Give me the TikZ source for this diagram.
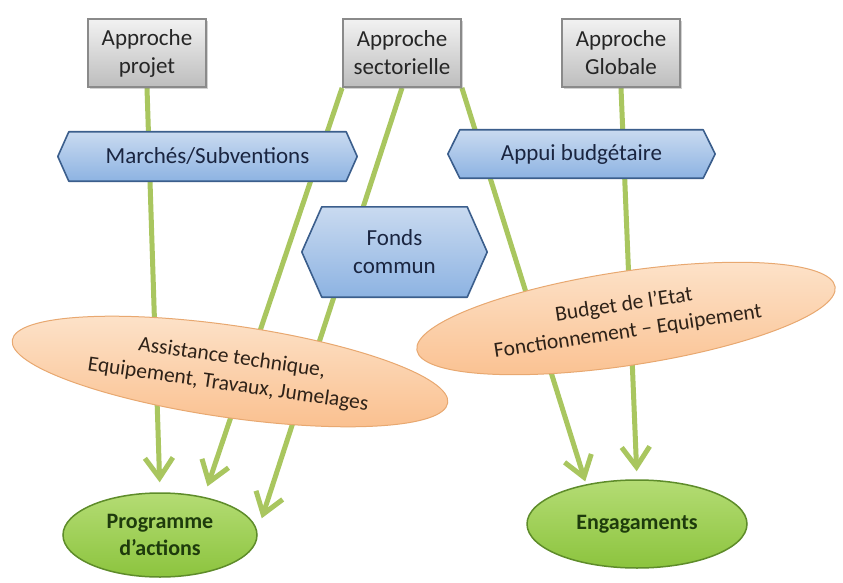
\documentclass[tikz,border=0pt]{standalone}
\usepackage{fontspec}
\setmainfont{Carlito}
\usetikzlibrary{shapes.geometric,arrows.meta,backgrounds,shadows}
\pgfdeclarelayer{mid}
\pgfsetlayers{background,mid,main}
\definecolor{apt}{HTML}{F2F2F2}
\definecolor{apb}{HTML}{BDBDBD}
\definecolor{apbd}{HTML}{8A8A8A}
\definecolor{hxt}{HTML}{C9DAF0}
\definecolor{hxb}{HTML}{8DB3E2}
\definecolor{hxbd}{HTML}{3B5E8C}
\definecolor{hxtx}{HTML}{1A2540}
\definecolor{ort}{HTML}{FDE4CC}
\definecolor{orb}{HTML}{FAC08F}
\definecolor{orbd}{HTML}{E8A870}
\definecolor{ortx}{HTML}{2E2218}
\definecolor{gnt}{HTML}{B4DC74}
\definecolor{gnb}{HTML}{8CC43E}
\definecolor{gnbd}{HTML}{5E8C2A}
\definecolor{gntx}{HTML}{1E3B0C}
\definecolor{lnk}{HTML}{A9C65F}
\newcommand\hexaround[2]{%
  \path[hexpath] ([xshift=#2]#1.north west) -- ([xshift=-#2]#1.north east) -- (#1.east)
    -- ([xshift=-#2]#1.south east) -- ([xshift=#2]#1.south west) -- (#1.west) -- cycle;}
\begin{document}
\begin{tikzpicture}[x=1pt,y=-1pt,
  appr/.style={rectangle, draw=apbd, line width=1.8pt, top color=apt, bottom color=apb,
    minimum width=118pt, minimum height=68pt, inner sep=2pt, align=center,
    font=\fontsize{23}{28}\selectfont, text=black!85,
    drop shadow={opacity=0.35, shadow xshift=2pt, shadow yshift=-2pt}},
  hexa/.style={rectangle, inner sep=0pt, align=center,
    font=\fontsize{23}{28}\selectfont, text=hxtx},
  hexpath/.style={draw=hxbd, line width=1.6pt, line join=round, top color=hxt, bottom color=hxb},
  orng/.style={ellipse, draw=orbd, line width=1pt, top color=ort, bottom color=orb,
    inner sep=0pt, align=center, font=\fontsize{21.5}{27}\selectfont, text=ortx},
  grn/.style={ellipse, draw=gnbd, line width=1.5pt, top color=gnt, bottom color=gnb,
    inner sep=0pt, align=center, font=\bfseries\fontsize{22}{27}\selectfont, text=gntx},
  link/.style={draw=lnk, line width=5pt, -{Straight Barb[length=20pt,width=28pt]}}
]
\useasboundingbox (0,0) rectangle (843,583);
\node[appr] (proj) at (147,53) {Approche\\projet};
\node[appr] (sect) at (402,53) {Approche\\sectorielle};
\node[appr] (glob) at (621,53) {Approche\\Globale};
\node[hexa, minimum width=299pt, minimum height=49pt] (marche) at (207.5,156.5) {Marchés/Subventions};
\node[hexa, minimum width=267pt, minimum height=48pt] (appui) at (581.5,154) {Appui budgétaire};
\node[hexa, minimum width=185pt, minimum height=90pt] (fonds) at (394.5,252) {Fonds\\commun};
\node[orng, minimum width=440pt, minimum height=92pt, rotate=-8.2] (assist) at (230,371.5) {Assistance technique,\\Equipement, Travaux, Jumelages};
\node[orng, minimum width=423pt, minimum height=94pt, rotate=8.6] (budget) at (626,318.5) {Budget de l'Etat\\Fonctionnement -- Equipement};
\node[grn, minimum width=194pt, minimum height=84pt] (prog) at (160,535) {Programme\\d'actions};
\node[grn, minimum width=220pt, minimum height=88pt] (eng) at (637,524) {Engagaments};
\begin{pgfonlayer}{mid}
\hexaround{marche}{11pt}
\hexaround{appui}{12pt}
\hexaround{fonds}{20pt}
\end{pgfonlayer}
\begin{scope}[on background layer]
\fill[white] (0,0) rectangle (843,583);
\draw[link, shorten >=10pt] (proj.south) -- (prog.north);
\draw[link, shorten >=11pt] (sect.south west) -- (prog.41);
\draw[link, shorten >=14pt] (sect.south) -- (prog.2);
\draw[link, shorten >=3pt] (sect.south east) -- (eng.142);
\draw[link, shorten >=8pt] (glob.south) -- (eng.north);
\end{scope}
\end{tikzpicture}
\end{document}
